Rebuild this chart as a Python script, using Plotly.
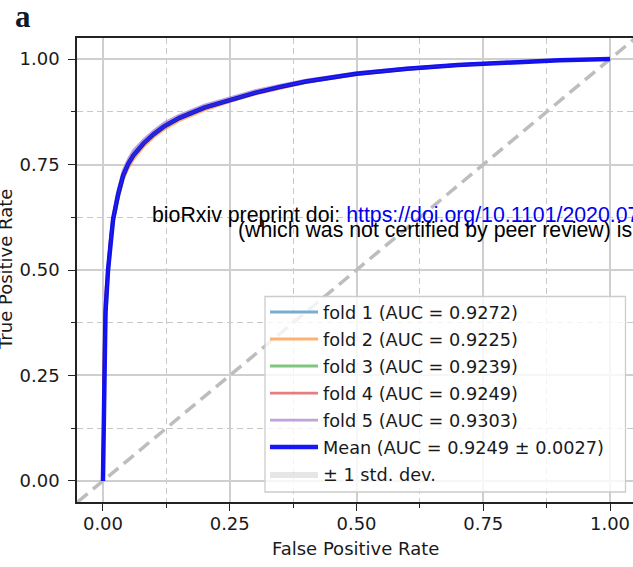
import numpy as np
import plotly.graph_objects as go

# ---------------- data ----------------
mean_fpr = [0, 0.002, 0.005, 0.01, 0.015, 0.02, 0.03, 0.04, 0.05, 0.06, 0.08, 0.10, 0.12,
            0.15, 0.20, 0.25, 0.30, 0.35, 0.40, 0.50, 0.60, 0.70, 0.80, 0.90, 1.0]
fold1_tpr = [0, 0.24, 0.40, 0.50, 0.57, 0.62, 0.68, 0.727, 0.755, 0.775, 0.803, 0.825, 0.843,
             0.862, 0.887, 0.905, 0.922, 0.936, 0.948, 0.966, 0.978, 0.987, 0.993, 0.997, 1.0]
fold2_tpr = [0, 0.25, 0.40, 0.50, 0.565, 0.615, 0.67, 0.715, 0.742, 0.762, 0.792, 0.815, 0.833,
             0.854, 0.879, 0.899, 0.917, 0.931, 0.944, 0.963, 0.975, 0.985, 0.991, 0.997, 1.0]
fold3_tpr = [0, 0.22, 0.37, 0.48, 0.555, 0.61, 0.67, 0.718, 0.748, 0.769, 0.798, 0.820, 0.838,
             0.858, 0.883, 0.901, 0.919, 0.933, 0.945, 0.964, 0.976, 0.985, 0.992, 0.997, 1.0]
fold4_tpr = [0, 0.30, 0.44, 0.52, 0.58, 0.625, 0.682, 0.724, 0.75, 0.77, 0.799, 0.821, 0.839,
             0.859, 0.884, 0.902, 0.919, 0.933, 0.946, 0.965, 0.976, 0.985, 0.992, 0.997, 1.0]
fold5_tpr = [0, 0.25, 0.41, 0.51, 0.58, 0.63, 0.69, 0.736, 0.763, 0.783, 0.809, 0.830, 0.848,
             0.867, 0.891, 0.908, 0.925, 0.938, 0.950, 0.968, 0.979, 0.987, 0.993, 0.998, 1.0]
mean_tpr = [0, 0.25, 0.40, 0.50, 0.57, 0.62, 0.68, 0.725, 0.752, 0.772, 0.80, 0.822, 0.840,
            0.860, 0.885, 0.903, 0.920, 0.934, 0.947, 0.965, 0.977, 0.986, 0.992, 0.997, 1.0]

fold_names = ["fold 1 (AUC = 0.9272)", "fold 2 (AUC = 0.9225)", "fold 3 (AUC = 0.9239)",
              "fold 4 (AUC = 0.9249)", "fold 5 (AUC = 0.9303)"]
mean_name = "Mean (AUC = 0.9249 ± 0.0027)"
std_name = "± 1 std. dev."
chance_x = [-0.05, 1.05]
chance_y = [-0.05, 1.05]
tick_vals = [0.0, 0.25, 0.5, 0.75, 1.0]
tick_text = ["0.00", "0.25", "0.50", "0.75", "1.00"]

fold_colors = ["rgba(31,119,180,0.6)", "rgba(255,127,14,0.6)", "rgba(44,160,44,0.6)",
               "rgba(214,39,40,0.6)", "rgba(148,103,189,0.6)"]

# ---------------- layout geometry (pixels) ----------------
W, H = 633, 567
L, R, T, B = 77, 0, 38, 65
PW, PH = W - L - R, H - T - B


def px(x):
    return (x - L) / PW


def py(y):
    return (H - B - y) / PH


FONT = "DejaVu Sans"
fig = go.Figure()

fig.add_trace(go.Scatter(x=chance_x, y=chance_y, mode="lines", showlegend=False,
                         line=dict(color="#bdbdbd", width=3.5, dash="13px,7px"),
                         hoverinfo="skip"))

folds = [fold1_tpr, fold2_tpr, fold3_tpr, fold4_tpr, fold5_tpr]
for i, (tpr, name, col) in enumerate(zip(folds, fold_names, fold_colors)):
    fig.add_trace(go.Scatter(x=mean_fpr, y=tpr, mode="lines", name=name,
                             legendgroup=f"g{i}",
                             line=dict(color=col, width=2.8)))

fig.add_trace(go.Scatter(x=mean_fpr, y=mean_tpr, mode="lines", name=mean_name,
                         legendgroup="g5",
                         line=dict(color="rgba(10,10,245,0.95)", width=4.5)))

std_tpr = np.std(np.array(folds), axis=0)
upper = np.minimum(np.array(mean_tpr) + std_tpr, 1)
lower = np.maximum(np.array(mean_tpr) - std_tpr, 0)
fig.add_trace(go.Scatter(x=mean_fpr, y=lower, mode="lines", showlegend=False,
                         legendgroup="g6", line=dict(width=0, color="rgba(0,0,0,0)"),
                         hoverinfo="skip"))
fig.add_trace(go.Scatter(x=mean_fpr, y=upper, mode="lines", name=std_name,
                         legendgroup="g6", fill="tonexty",
                         fillcolor="rgba(128,128,128,0.2)",
                         line=dict(width=0, color="rgba(0,0,0,0)")))

axis_common = dict(
    tickvals=tick_vals, ticktext=tick_text,
    showgrid=True, gridcolor="#cfcfcf", gridwidth=2,
    zeroline=False, showline=True, linecolor="#222222", linewidth=1.5,
    ticks="outside", ticklen=7, tickwidth=1.3, tickcolor="#222222",
    tickfont=dict(family=FONT, size=18, color="#1a1a1a"),
    automargin=False,
    minor=dict(tickvals=[0.125, 0.375, 0.625, 0.875], showgrid=True, gridcolor="#c8c8c8",
               gridwidth=1.3, griddash="6px,4px", ticks="outside", ticklen=4,
               tickcolor="#222222", tickwidth=1),
)

fig.update_layout(
    width=W, height=H,
    margin=dict(l=L, r=R, t=T, b=B, pad=0),
    paper_bgcolor="white", plot_bgcolor="white",
    template="none",
    xaxis=dict(range=[-0.0512, 1.0453], mirror=True, ticklabelstandoff=-2, **axis_common),
    yaxis=dict(range=[-0.05, 1.05], ticklabelstandoff=5, **axis_common),
    legend=dict(x=px(265), y=py(294), xanchor="left", yanchor="top",
                bgcolor="rgba(0,0,0,0)", borderwidth=0,
                font=dict(family=FONT, size=17.7, color="#1a1a1a"),
                tracegroupgap=1, itemwidth=48),
    showlegend=True,
    shapes=[dict(type="rect", xref="paper", yref="paper",
                 x0=px(265), x1=px(625.5), y0=py(492), y1=py(296.5),
                 fillcolor="rgba(255,255,255,0.8)",
                 line=dict(color="#cccccc", width=1.3), layer="above")],
)

annotations = [
    dict(text="False Positive Rate", x=px(355), y=py(548), xref="paper", yref="paper",
         xanchor="center", yanchor="middle", showarrow=False,
         font=dict(family=FONT, size=18, color="#1a1a1a")),
    dict(text="True Positive Rate", x=px(5), y=py(270), xref="paper", yref="paper",
         xanchor="center", yanchor="middle", showarrow=False, textangle=-90,
         font=dict(family=FONT, size=18, color="#1a1a1a")),
    dict(text="<b>a</b>", x=px(23), y=py(17), xref="paper", yref="paper",
         xanchor="center", yanchor="middle", showarrow=False,
         font=dict(family="Liberation Serif", size=31, color="#0d1a2b")),
    dict(text="bioRxiv preprint doi: <span style='color:#0000ee'>https://doi.org/10.1101/2020.07</span>",
         x=px(150), y=py(215), xref="paper", yref="paper",
         xanchor="left", yanchor="middle", showarrow=False,
         font=dict(family="Liberation Sans", size=21.3, color="black")),
    dict(text="(which was not certified by peer review) is",
         x=px(236), y=py(230), xref="paper", yref="paper",
         xanchor="left", yanchor="middle", showarrow=False,
         font=dict(family="Liberation Sans", size=21.3, color="black")),
]
fig.update_layout(annotations=annotations)

fig.write_html("out.html")
